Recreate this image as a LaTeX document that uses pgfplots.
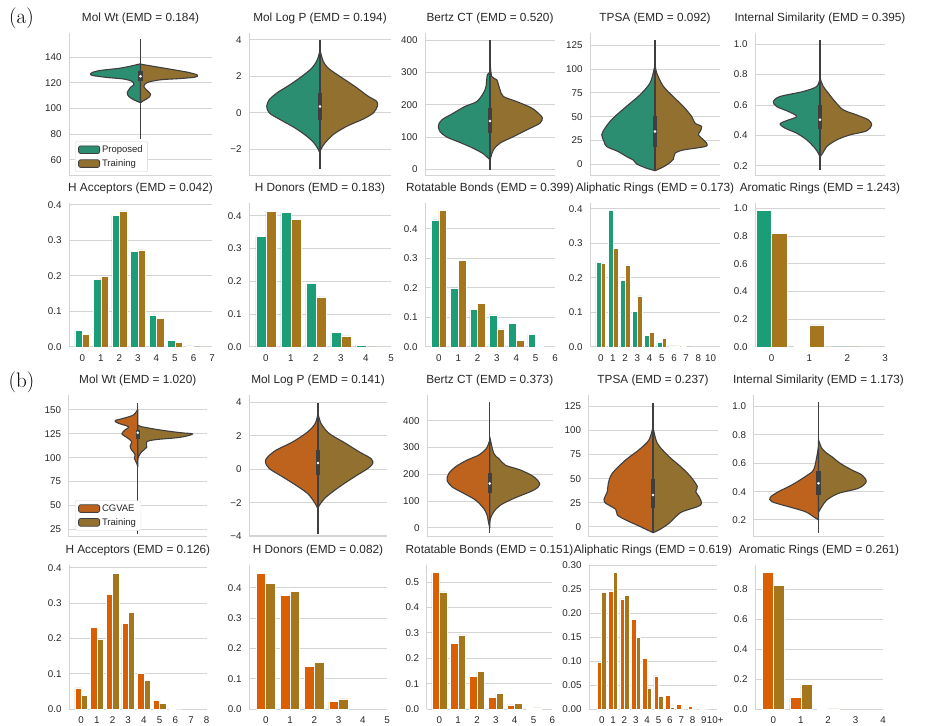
\documentclass[border=0pt]{standalone}
\usepackage{fontspec}
\setsansfont{Liberation Sans}
\usepackage{pgfplots}
\usepackage{pgfplotstable}
\pgfplotsset{compat=1.18}
\definecolor{gridc}{HTML}{D4D4D4}
\definecolor{txt}{HTML}{262626}
\definecolor{vedge}{HTML}{3F3F3F}
\definecolor{vgreen}{HTML}{2C8E71}
\definecolor{vbrown}{HTML}{92702F}
\definecolor{vorange}{HTML}{BE631D}
\definecolor{bgreen}{HTML}{1B9E77}
\definecolor{bbrown}{HTML}{A6761D}
\definecolor{borange}{HTML}{D95F02}

\pgfplotsset{
 base/.style={scale only axis, anchor=south west, axis lines*=left,
   axis line style={draw=gridc, line width=1pt},
   ymajorgrids, grid style={draw=gridc, line width=1pt},
   major tick length=0pt, tick style={draw=none},
   /pgf/number format/assume math mode=true,
   ticklabel style={font=\sffamily\fontsize{9.8}{11}\selectfont, text=txt},
   yticklabel style={xshift=-4pt},
   xticklabel style={yshift=-4.2pt},
   title style={font=\sffamily\fontsize{11.8}{13}\selectfont, text=txt, at={(0.5,1)}, anchor=base, yshift=5.5pt},
 },
 violin/.style={base, xmin=-#1, xmax=#1, xtick=\empty},
 bars/.style={base, ymin=0, yticklabel style={/pgf/number format/.cd, fixed, fixed zerofill, precision=1}},
 prec1/.style={yticklabel style={/pgf/number format/.cd, fixed, fixed zerofill, precision=1}},
 vhalf/.style={fill=#1, draw=vedge, line width=1.1pt, line join=round, smooth, tension=0.5, forget plot},
 whisk/.style={draw=vedge, line width=1.4pt, forget plot},
 vbox/.style={draw=vedge, line width=4.5pt, forget plot},
 vmed/.style={only marks, mark=*, mark size=1.1pt, mark options={fill=white, draw=white}, forget plot},
 barA/.style={ybar, bar width=0.4, bar shift=0pt, fill=#1, draw=white, line width=0.5pt, forget plot},
 leg/.style={legend cell align=left,
   legend style={at={#1}, anchor=south west, draw=gridc, fill=white, rounded corners=2pt,
     font=\sffamily\fontsize{9.5}{11}\selectfont, text=txt, row sep=1.5pt, inner xsep=3pt, inner ysep=2pt},
   legend image code/.code={\draw[##1, line width=0.8pt] (0pt,-3.8pt) rectangle (21pt,3.8pt);}},
}

\pgfplotstableread{
x a b
0 0.047 0.036
1 0.190 0.198
2 0.370 0.383
3 0.268 0.273
4 0.090 0.080
5 0.019 0.014
6 0.003 0.000
}\hAccA
\pgfplotstableread{
x a b
0 0.338 0.414
1 0.411 0.390
2 0.193 0.153
3 0.044 0.034
4 0.006 0.000
}\hDonA
\pgfplotstableread{
x a b
0 0.430 0.462
1 0.200 0.293
2 0.127 0.147
3 0.109 0.061
4 0.080 0.022
5 0.042 0.003
}\rotA
\pgfplotstableread{
x a b
0 0.246 0.243
1 0.395 0.286
2 0.192 0.237
3 0.104 0.148
4 0.033 0.043
5 0.013 0.025
6 0.003 0.003
7 0.001 0.000
}\aliA
\pgfplotstableread{
x a b
0 0.985 0.823
1 0.007 0.160
2 0.001 0.000
}\aroA
\pgfplotstableread{
x a b
0 0.060 0.038
1 0.232 0.199
2 0.325 0.385
3 0.242 0.274
4 0.101 0.081
5 0.025 0.016
6 0.002 0.000
}\hAccB
\pgfplotstableread{
x a b
0 0.448 0.414
1 0.376 0.389
2 0.141 0.154
3 0.024 0.033
}\hDonB
\pgfplotstableread{
x a b
0 0.538 0.462
1 0.259 0.292
2 0.130 0.147
3 0.047 0.063
4 0.016 0.022
5 0.001 0.004
}\rotB
\pgfplotstableread{
x a b
0 0.098 0.243
1 0.247 0.285
2 0.230 0.238
3 0.188 0.149
4 0.106 0.044
5 0.069 0.026
6 0.028 0.003
7 0.010 0.000
8 0.006 0.000
9 0.002 0.000
}\aliB
\pgfplotstableread{
x a b
0 0.909 0.824
1 0.078 0.165
2 0.002 0.001
}\aroB

\begin{document}
\begin{tikzpicture}[font=\sffamily]
\path[use as bounding box] (0,0) rectangle (952pt,725pt);
\node[font=\rmfamily\fontsize{21}{24}\selectfont, text=black] at (21.5pt,707pt) {(a)};
\node[font=\rmfamily\fontsize{21}{24}\selectfont, text=black] at (21.5pt,342.5pt) {(b)};

% ---------------- Row 1 (a) violins ----------------
\begin{axis}[violin=71.5, at={(69pt,549pt)}, width=143pt, height=143pt,
  ymin=47.5, ymax=158.7, ytick={60,80,100,120,140}, title={Mol Wt (EMD = 0.184)},
  leg={(0.042,0.028)}]
\addplot[vhalf=vgreen] coordinates {(0,134.8) (-6.7,133.5) (-20,131.4) (-40,129.6) (-48.3,128) (-50,127) (-48.3,125.7) (-33.3,124.1) (-16.7,122.9) (-8.3,121) (-6.7,118.4) (-10,116.5) (-11.7,114.5) (-13.3,112) (-11.7,109.3) (-6.7,106.7) (-1.7,105) (0,104.5)} -- cycle;
\addplot[vhalf=vbrown] coordinates {(0,134.5) (13.3,132.7) (33.3,130.1) (48.3,128) (56.7,126) (55,124.4) (40,123.3) (20,122.3) (6.7,120.2) (3.3,117.1) (6.7,114) (10,111.2) (8.3,108.5) (3.3,106.2) (0,104.5)} -- cycle;
\addplot[whisk] coordinates {(0,76) (0,154)};
\addplot[vbox] coordinates {(0,121) (0,128.8)};
\addplot[vmed] coordinates {(0,125)};
\addlegendimage{fill=vgreen, draw=vedge}
\addlegendentry{Proposed}
\addlegendimage{fill=vbrown, draw=vedge}
\addlegendentry{Training}
\end{axis}

\begin{axis}[violin=71, at={(249pt,549pt)}, width=142pt, height=143pt,
  ymin=-3.45, ymax=4.38, ytick={-2,0,2,4}, yticklabels={−2,0,2,4}, title={Mol Log P (EMD = 0.194)}]
\addplot[vhalf=vgreen] coordinates {(0,3.45) (-2.7,2.91) (-8.3,2.45) (-18.3,2.0) (-30,1.55) (-43.3,1.09) (-50.7,0.73) (-53.3,0.36) (-50.7,0) (-40,-0.36) (-25,-0.82) (-13.3,-1.27) (-6,-1.64) (-1.7,-2.0) (0,-2.22)} -- cycle;
\addplot[vhalf=vbrown] coordinates {(0,3.45) (3.3,2.82) (8.3,2.45) (20,2.0) (35,1.45) (48.3,0.91) (56.7,0.64) (57.3,0.36) (53.3,0) (43.3,-0.33) (26.7,-0.73) (13.3,-1.18) (5,-1.64) (1.7,-1.91) (0,-2.1)} -- cycle;
\addplot[whisk] coordinates {(0,-3.09) (0,4.0)};
\addplot[vbox] coordinates {(0,-0.36) (0,1.1)};
\addplot[vmed] coordinates {(0,0.36)};
\end{axis}

\begin{axis}[violin=65, at={(425pt,549pt)}, width=130pt, height=143pt,
  ymin=-21, ymax=423, ytick={0,100,200,300,400}, title={Bertz CT (EMD = 0.520)}]
\addplot[vhalf=vgreen] coordinates {(0,300) (-2.7,293) (-4,257) (-6.7,236) (-13.3,210) (-25,195) (-36.7,174) (-48.3,153) (-51.7,135) (-50,117) (-43.3,100) (-30,83) (-16.7,65) (-6.7,48) (-1.7,34) (0,29)} -- cycle;
\addplot[vhalf=vbrown] coordinates {(0,335) (1.7,288) (6.7,278) (10,247) (13.3,226) (26.7,210) (41.7,190) (50,169) (52.3,159) (50,143) (36.7,122) (23.3,101) (10,81) (3.3,60) (1,39) (0,29)} -- cycle;
\addplot[whisk] coordinates {(0,-2) (0,402)};
\addplot[vbox] coordinates {(0,114) (0,190)};
\addplot[vmed] coordinates {(0,150)};
\end{axis}

\begin{axis}[violin=65, at={(590pt,549pt)}, width=130pt, height=143pt,
  ymin=-12.3, ymax=138, ytick={0,25,50,75,100,125}, title={TPSA (EMD = 0.092)}]
\addplot[vhalf=vgreen] coordinates {(0,106) (-1,99.5) (-5,85.4) (-15,73) (-26.7,62.5) (-38.3,52) (-45,45) (-50,38) (-53.3,31) (-51,24) (-48.3,18.6) (-36.7,13.3) (-28.3,8) (-21.7,4.5) (-18.3,0.3) (-8.3,-4.2) (0,-6.7)} -- cycle;
\addplot[vhalf=vbrown] coordinates {(0,106) (1.7,96) (8.3,82) (18.3,71) (28.3,60.8) (36.7,50.2) (40,43.2) (46.7,39.7) (45,34.4) (43.3,31) (46.7,27.4) (51.7,22) (50,18.6) (28.3,15) (20,11.6) (18.3,5.3) (11.7,-0.7) (3.3,-5.3) (0,-6.7)} -- cycle;
\addplot[whisk] coordinates {(0,-6.7) (0,131)};
\addplot[vbox] coordinates {(0,18.6) (0,51)};
\addplot[vmed] coordinates {(0,34.4)};
\end{axis}

\begin{axis}[violin=65, at={(755pt,549pt)}, width=130pt, height=143pt, prec1,
  ymin=0.134, ymax=1.073, ytick={0.2,0.4,0.6,0.8,1.0}, title={Internal Similarity (EMD = 0.395)}]
\addplot[vhalf=vgreen] coordinates {(0,0.777) (-3.3,0.722) (-16.7,0.689) (-40,0.656) (-46.7,0.623) (-43.3,0.59) (-30,0.553) (-23.3,0.524) (-33.3,0.498) (-40,0.476) (-35,0.448) (-23.3,0.415) (-13.3,0.371) (-5,0.316) (-1.7,0.283) (0,0.261)} -- cycle;
\addplot[vhalf=vbrown] coordinates {(0,0.777) (3.3,0.722) (8.3,0.678) (15,0.623) (23.3,0.568) (36.7,0.535) (48.3,0.503) (51.7,0.47) (46.7,0.43) (30,0.404) (16.7,0.371) (6.7,0.327) (2.7,0.283) (0,0.261)} -- cycle;
\addplot[whisk] coordinates {(0,0.174) (0,1.029)};
\addplot[vbox] coordinates {(0,0.44) (0,0.6)};
\addplot[vmed] coordinates {(0,0.503)};
\end{axis}

% ---------------- Row 2 (a) bars ----------------
\begin{axis}[bars, at={(69pt,378pt)}, width=143pt, height=144pt,
  xmin=-0.72, xmax=7, ymax=0.405, xtick={0,1,2,3,4,5,6,7}, ytick={0,0.1,0.2,0.3,0.4},
  title={H Acceptors (EMD = 0.042)}]
\addplot[barA=bgreen] table[x expr=\thisrow{x}-0.2, y=a] {\hAccA};
\addplot[barA=bbrown] table[x expr=\thisrow{x}+0.2, y=b] {\hAccA};
\end{axis}

\begin{axis}[bars, at={(249pt,378pt)}, width=142pt, height=144pt,
  xmin=-0.67, xmax=5, ymax=0.439, xtick={0,1,2,3,4,5}, ytick={0,0.1,0.2,0.3,0.4},
  title={H Donors (EMD = 0.183)}]
\addplot[barA=bgreen] table[x expr=\thisrow{x}-0.2, y=a] {\hDonA};
\addplot[barA=bbrown] table[x expr=\thisrow{x}+0.2, y=b] {\hDonA};
\end{axis}

\begin{axis}[bars, at={(425pt,378pt)}, width=130pt, height=144pt,
  xmin=-0.72, xmax=6, ymax=0.487, xtick={0,1,2,3,4,5,6}, ytick={0,0.1,0.2,0.3,0.4},
  title={Rotatable Bonds (EMD = 0.399)}]
\addplot[barA=bgreen] table[x expr=\thisrow{x}-0.2, y=a] {\rotA};
\addplot[barA=bbrown] table[x expr=\thisrow{x}+0.2, y=b] {\rotA};
\end{axis}

\begin{axis}[bars, at={(590pt,378pt)}, width=130pt, height=144pt,
  xmin=-0.88, xmax=9.77, ymax=0.417, xtick={0,1,2,3,4,5,6,7,8,9},
  xticklabels={0,1,2,3,4,5,6,7,8,10}, ytick={0,0.1,0.2,0.3,0.4},
  title={Aliphatic Rings (EMD = 0.173)}]
\addplot[barA=bgreen] table[x expr=\thisrow{x}-0.2, y=a] {\aliA};
\addplot[barA=bbrown] table[x expr=\thisrow{x}+0.2, y=b] {\aliA};
\end{axis}

\begin{axis}[bars, at={(755pt,378pt)}, width=130pt, height=144pt,
  xmin=-0.44, xmax=3, ymax=1.04, xtick={0,1,2,3}, ytick={0,0.2,0.4,0.6,0.8,1.0},
  title={Aromatic Rings (EMD = 1.243)}]
\addplot[barA=bgreen] table[x expr=\thisrow{x}-0.2, y=a] {\aroA};
\addplot[barA=bbrown] table[x expr=\thisrow{x}+0.2, y=b] {\aroA};
\end{axis}

% ---------------- Row 3 (b) violins ----------------
\begin{axis}[violin=69.25, at={(68.5pt,188pt)}, width=138.5pt, height=142pt,
  ymin=17, ymax=165.6, ytick={25,50,75,100,125,150}, title={Mol Wt (EMD = 1.020)},
  leg={(0.047,0.044)}]
\addplot[vhalf=vorange] coordinates {(0,150.6) (-4.3,144.7) (-14.3,141.2) (-22.7,138.7) (-19.3,136) (-9.3,132.4) (-12.7,129) (-16,124.8) (-11,121.3) (-6,116.7) (-7.7,112.2) (-6,108) (-2.7,103.5) (-3.3,99.3) (-1,94.1) (0,90.5)} -- cycle;
\addplot[vhalf=vbrown] coordinates {(0,134.2) (4,132.4) (22.3,129) (42.3,126.2) (55,124.8) (42.3,121.3) (19,119) (9,116.7) (9,110.9) (4,106.3) (0.7,101) (0,97.6)} -- cycle;
\addplot[whisk] coordinates {(0,20) (0,157)};
\addplot[vbox] coordinates {(0,120) (0,129)};
\addplot[vmed] coordinates {(0,126)};
\addlegendimage{fill=vorange, draw=vedge}
\addlegendentry{CGVAE}
\addlegendimage{fill=vbrown, draw=vedge}
\addlegendentry{Training}
\end{axis}

\begin{axis}[violin=69, at={(249pt,188pt)}, width=138pt, height=142pt,
  ymin=-4.06, ymax=4.45, ytick={-4,-2,0,2,4}, yticklabels={−4,−2,0,2,4}, title={Mol Log P (EMD = 0.141)}]
\addplot[vhalf=vorange] coordinates {(0,3.35) (-2.7,2.75) (-10.3,2.24) (-25.3,1.64) (-42,1.14) (-50.3,0.74) (-52.7,0.44) (-48.7,0.04) (-35.3,-0.46) (-22,-0.96) (-10.3,-1.46) (-3.7,-1.97) (0,-2.37)} -- cycle;
\addplot[vhalf=vbrown] coordinates {(0,3.35) (3,2.75) (11.3,2.14) (28,1.54) (41.3,1.04) (53,0.64) (54.7,0.34) (49.7,0.04) (36.3,-0.46) (21.3,-1.06) (8,-1.67) (1.3,-2.16) (0,-2.37)} -- cycle;
\addplot[whisk] coordinates {(0,-3.87) (0,3.95)};
\addplot[vbox] coordinates {(0,-0.36) (0,1.14)};
\addplot[vmed] coordinates {(0,0.38)};
\end{axis}

\begin{axis}[violin=62.75, at={(427pt,188pt)}, width=125.5pt, height=142pt,
  ymin=-34, ymax=496, ytick={0,100,200,300,400}, title={Bertz CT (EMD = 0.373)}]
\addplot[vhalf=vorange] coordinates {(0,328) (-3.3,297) (-11,272) (-22.7,253) (-34.3,228) (-41,203) (-42.7,178) (-37.7,153) (-26,129) (-14.3,104) (-6,72.5) (-2.7,47.5) (-1,16.5) (0,0)} -- cycle;
\addplot[vhalf=vbrown] coordinates {(0,340) (4,278) (9,259) (15.7,234) (30.7,216) (44,191) (50,163) (44,141) (24,110) (10.7,85) (4,60) (0.7,35) (0,20)} -- cycle;
\addplot[whisk] coordinates {(0,-19) (0,471)};
\addplot[vbox] coordinates {(0,129) (0,206)};
\addplot[vmed] coordinates {(0,166)};
\end{axis}

\begin{axis}[violin=64.5, at={(588.5pt,188pt)}, width=129pt, height=142pt,
  ymin=-10.7, ymax=137, ytick={0,25,50,75,100,125}, title={TPSA (EMD = 0.237)}]
\addplot[vhalf=vorange] coordinates {(0,104) (-4,90.3) (-14,80) (-27.3,69.5) (-40.7,55.6) (-44.7,45.2) (-45.7,36.5) (-49,28.5) (-47.3,24.4) (-37.3,18.1) (-35.7,12.2) (-27.3,7) (-14,0.7) (0,-6.2)} -- cycle;
\addplot[vhalf=vbrown] coordinates {(0,104) (4.3,86.8) (16,72.9) (27.7,62.5) (37.7,52) (44.3,41.7) (42.7,36.5) (46,31.3) (47.7,22.6) (29.3,15.6) (22.7,10.4) (16,3.5) (6,-3.4) (0,-6.2)} -- cycle;
\addplot[whisk] coordinates {(0,-6.2) (0,128.5)};
\addplot[vbox] coordinates {(0,19) (0,50)};
\addplot[vmed] coordinates {(0,33)};
\end{axis}

\begin{axis}[violin=65, at={(753.5pt,188pt)}, width=130pt, height=142pt, prec1,
  ymin=0.08, ymax=1.082, ytick={0.2,0.4,0.6,0.8,1.0}, title={Internal Similarity (EMD = 1.173)}]
\addplot[vhalf=vorange] coordinates {(0,0.72) (-1.7,0.647) (-5,0.553) (-13.3,0.506) (-26.7,0.447) (-40,0.4) (-48.3,0.36) (-46.7,0.329) (-30,0.294) (-13.3,0.259) (-5,0.223) (0,0.2)} -- cycle;
\addplot[vhalf=vbrown] coordinates {(0,0.765) (3.3,0.706) (8.3,0.671) (13.3,0.647) (21.7,0.6) (33.3,0.553) (43.3,0.518) (47.7,0.47) (40,0.424) (20,0.388) (8.3,0.341) (3.3,0.294) (0,0.255)} -- cycle;
\addplot[whisk] coordinates {(0,0.11) (0,1.035)};
\addplot[vbox] coordinates {(0,0.376) (0,0.546)};
\addplot[vmed] coordinates {(0,0.459)};
\end{axis}

% ---------------- Row 4 (b) bars ----------------
\begin{axis}[bars, at={(69pt,16pt)}, width=137.7pt, height=144pt,
  xmin=-0.77, xmax=8, ymax=0.408, xtick={0,1,2,3,4,5,6,7,8}, ytick={0,0.1,0.2,0.3,0.4},
  title={H Acceptors (EMD = 0.126)}]
\addplot[barA=borange] table[x expr=\thisrow{x}-0.2, y=a] {\hAccB};
\addplot[barA=bbrown] table[x expr=\thisrow{x}+0.2, y=b] {\hAccB};
\end{axis}

\begin{axis}[bars, at={(249pt,16pt)}, width=138pt, height=144pt,
  xmin=-0.69, xmax=5, ymax=0.475, xtick={0,1,2,3,4,5}, ytick={0,0.1,0.2,0.3,0.4},
  title={H Donors (EMD = 0.082)}]
\addplot[barA=borange] table[x expr=\thisrow{x}-0.2, y=a] {\hDonB};
\addplot[barA=bbrown] table[x expr=\thisrow{x}+0.2, y=b] {\hDonB};
\end{axis}

\begin{axis}[bars, at={(426.7pt,16pt)}, width=125.6pt, height=144pt,
  xmin=-0.67, xmax=6, ymax=0.568, xtick={0,1,2,3,4,5,6}, ytick={0,0.1,0.2,0.3,0.4,0.5},
  title={Rotatable Bonds (EMD = 0.151)}]
\addplot[barA=borange] table[x expr=\thisrow{x}-0.2, y=a] {\rotB};
\addplot[barA=bbrown] table[x expr=\thisrow{x}+0.2, y=b] {\rotB};
\end{axis}

\begin{axis}[bars, at={(589pt,16pt)}, width=128pt, height=144pt,
  xmin=-1.12, xmax=10.15, ymax=0.301, xtick={0,1,2,3,4,5,6,7,8,9,10},
  xticklabels={0,1,2,3,4,5,6,7,8,9,10+}, ytick={0,0.05,0.1,0.15,0.2,0.25,0.3},
  yticklabel style={/pgf/number format/.cd, fixed, fixed zerofill, precision=2},
  title={Aliphatic Rings (EMD = 0.619)}]
\addplot[barA=borange] table[x expr=\thisrow{x}-0.2, y=a] {\aliB};
\addplot[barA=bbrown] table[x expr=\thisrow{x}+0.2, y=b] {\aliB};
\end{axis}

\begin{axis}[bars, at={(755pt,16pt)}, width=128pt, height=144pt,
  xmin=-0.67, xmax=4, ymax=0.96, xtick={0,1,2,3,4}, ytick={0,0.2,0.4,0.6,0.8},
  title={Aromatic Rings (EMD = 0.261)}]
\addplot[barA=borange] table[x expr=\thisrow{x}-0.2, y=a] {\aroB};
\addplot[barA=bbrown] table[x expr=\thisrow{x}+0.2, y=b] {\aroB};
\end{axis}
\end{tikzpicture}
\end{document}
